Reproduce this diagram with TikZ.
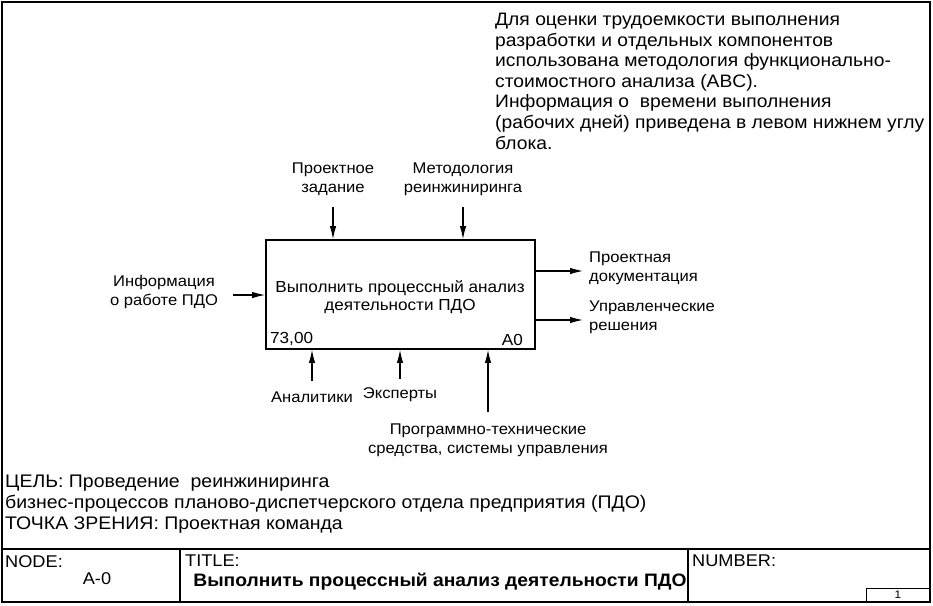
\documentclass[tikz,border=0pt]{standalone}
\usepackage{fontspec}
\setmainfont[FakeStretch=1.07]{Liberation Sans}
\usetikzlibrary{arrows.meta}

\tikzset{
	lbl/.style={align=center, inner sep=0pt, font=\fontsize{15.5}{19}\selectfont},
	note/.style={align=left, inner sep=0pt, anchor=north west},
	arr/.style={-{Latex[length=13pt,width=6.5pt]}, line width=1.1pt},
	frame/.style={line width=2.6pt},
}

\begin{document}
\begin{tikzpicture}[x=1pt, y=-1pt]
	\useasboundingbox (0,0) rectangle (933,605);

	% frame and footer
	\draw[frame] (2,2) rectangle (930,602);
	\draw[line width=1.8pt] (2,549) -- (930,549);
	\draw[line width=1.8pt] (180,549) -- (180,602);
	\draw[line width=1.8pt] (688,549) -- (688,602);
	\draw[line width=0.9pt] (866,588) rectangle (930,602);

	\node[note, font=\fontsize{17}{20}\selectfont] (nodehd) at (5,555) {NODE:};
	\node[lbl, font=\fontsize{17}{20}\selectfont] (nodeno) at (97,579) {A-0};
	\node[note, font=\fontsize{17}{20}\selectfont] (titlehd) at (185,555) {TITLE:};
	\node[lbl, font=\bfseries\fontsize{18}{20}\selectfont] (title) at (440,582) {Выполнить процессный анализ деятельности ПДО};
	\node[note, font=\fontsize{17}{20}\selectfont] (numhd) at (692,555) {NUMBER:};
	\node[lbl, font=\fontsize{11}{12}\selectfont] (pageno) at (898,595) {1};

	% note
	\node[note, font=\fontsize{18}{20.6}\selectfont] (remark) at (495,13) {Для оценки трудоемкости выполнения\\
		разработки и отдельных компонентов\\
		использована методология функционально-\\
		стоимостного анализа (ABC).\\
		Информация о\ \ времени выполнения\\
		(рабочих дней) приведена в левом нижнем углу\\
		блока.};

	% purpose and viewpoint
	\node[note, font=\fontsize{18.2}{20.8}\selectfont] (purpose) at (5,475) {ЦЕЛЬ: Проведение\ \ реинжиниринга\\
		бизнес-процессов планово-диспетчерского отдела предприятия (ПДО)\\
		ТОЧКА ЗРЕНИЯ: Проектная команда};

	% block A0
	\node[draw, line width=1.8pt, minimum width=269pt, minimum height=109pt, inner sep=0pt] (blk) at (400.5,294.5) {};
	\node[lbl, font=\fontsize{16}{18}\selectfont] (blktxt) at (400,297) {Выполнить процессный анализ\\деятельности ПДО};
	\node[lbl, anchor=south west, font=\fontsize{16}{18}\selectfont] (cost) at (270,346) {73,00};
	\node[lbl, anchor=south east, font=\fontsize{16}{18}\selectfont] (blkno) at (523,346) {A0};

	% input
	\coordinate (in1) at (233,295);
	\draw[arr] (in1) -- (in1 -| blk.west);
	\node[lbl] (in1lbl) at (164,292) {Информация\\о работе ПДО};

	% controls
	\foreach \x/\name/\txt in {333/ctl1/{Проектное\\задание}, 463/ctl2/{Методология\\реинжиниринга}}
	{
		\coordinate (\name) at (\x,207);
		\draw[arr] (\name) -- (\name |- blk.north);
		\node[lbl, anchor=south] (\name lbl) at (\x,196) {\txt};
	}

	% outputs
	\foreach \y/\name/\txt in {271/out1/{Проектная\\документация}, 320/out2/{Управленческие\\решения}}
	{
		\coordinate (\name) at (583,\y);
		\draw[arr] (\name -| blk.east) -- (\name);
		\node[lbl, align=left, anchor=west] (\name lbl) at (589,\y-3) {\txt};
	}

	% mechanisms
	\coordinate (mech1) at (312,381);
	\coordinate (mech2) at (400,379);
	\coordinate (mech3) at (488,412);
	\foreach \name in {mech1,mech2,mech3}
		\draw[arr] (\name) -- (\name |- blk.south);
	\node[lbl] (mech1lbl) at (312,397) {Аналитики};
	\node[lbl] (mech2lbl) at (400,395) {Эксперты};
	\node[lbl] (mech3lbl) at (488,440) {Программно-технические\\средства, системы управления};
\end{tikzpicture}
\end{document}
